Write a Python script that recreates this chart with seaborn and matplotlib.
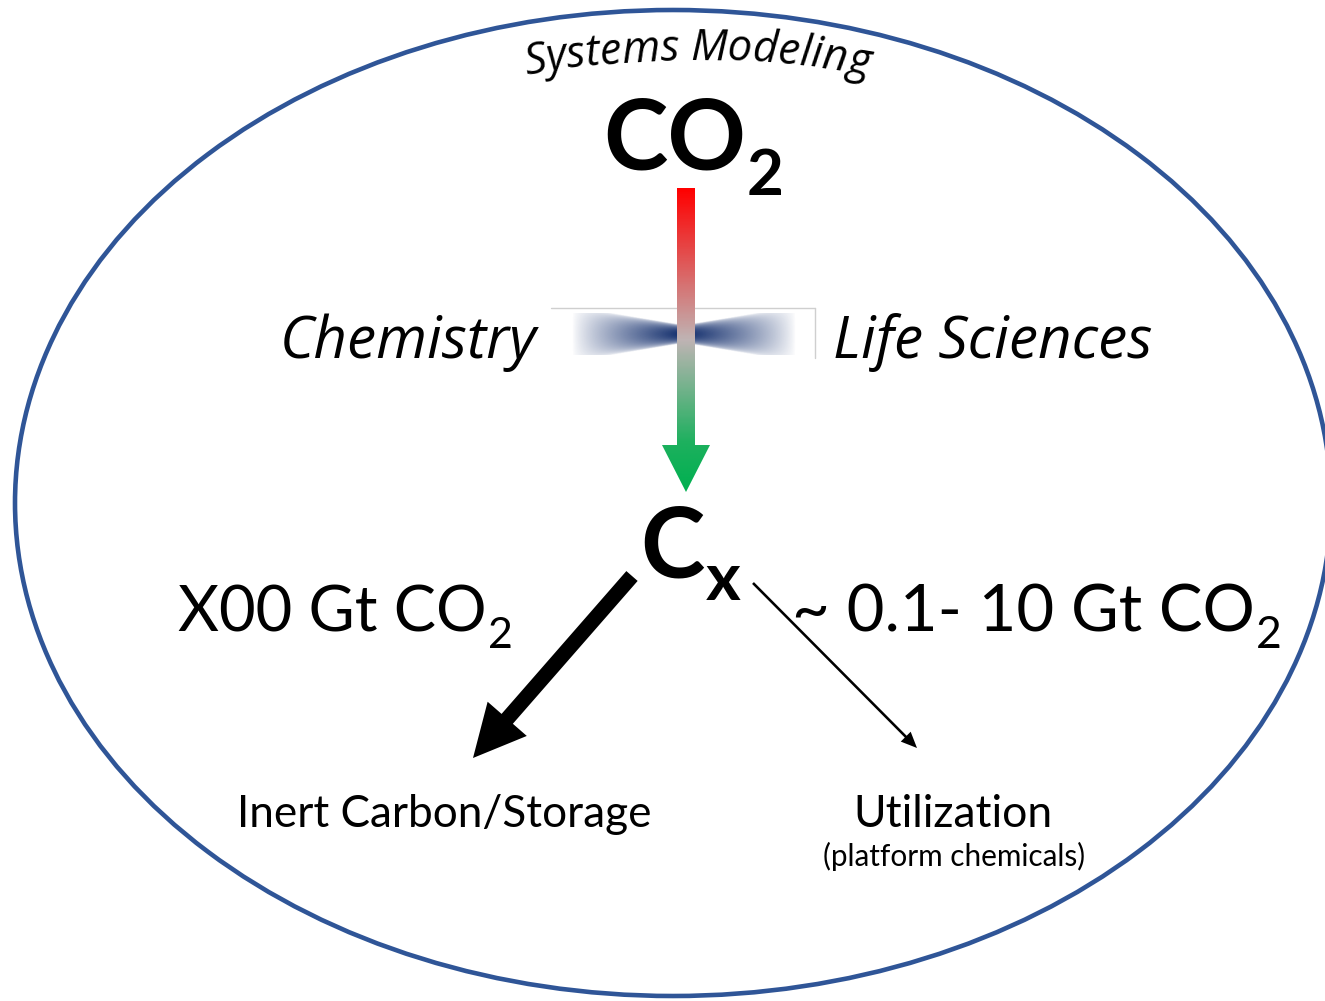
import numpy as np
import matplotlib
matplotlib.use("Agg")
import matplotlib.pyplot as plt
import seaborn as sns
from matplotlib.patches import Ellipse, FancyArrow
from matplotlib.colors import LinearSegmentedColormap, to_rgb
from matplotlib.font_manager import FontProperties

sns.set_theme(style="white")
FONT = "Lato"
ITALIC_FONT = "Open Sans"
plt.rcParams["font.family"] = [FONT, "DejaVu Sans"]

# diagram content
header = "Systems Modeling"
source = ("CO", "2")
product = ("C", "x")
disciplines = ["Chemistry", "Life Sciences"]
flow_labels = [("X00 Gt CO", "2"), ("~ 0.1- 10 Gt CO", "2")]
destinations = ["Inert Carbon/Storage", "Utilization"]
destination_note = "(platform chemicals)"

fig = plt.figure(figsize=(13.25, 10.01), dpi=100)
ax = fig.add_axes([0, 0, 1, 1])
ax.set_xlim(0, 1325)
ax.set_ylim(1001, 0)
ax.axis("off")
renderer = fig.canvas.get_renderer()

# outer ellipse
ax.add_patch(Ellipse((673, 503), 1316, 986, fill=False, ec="#2F5597", lw=3.3))


def put(x, y, s, size, weight="normal", style="normal", ha="left", family=FONT):
    return ax.text(x, y, s, fontsize=size, fontweight=weight, fontstyle=style,
                   ha=ha, va="baseline", color="black", family=family)


def put_sub(x, y, main, sub, size, sub_size, drop, weight="normal"):
    t = put(x, y, main, size, weight)
    bb = t.get_window_extent(renderer)
    x1 = ax.transData.inverted().transform((bb.x1, bb.y0))[0]
    put(x1 + 1, y + drop, sub, sub_size, weight)


# header on an arc
prop = FontProperties(family=ITALIC_FONT, style="italic", size=31.5)
widths = [renderer.get_text_width_height_descent(header[:i], prop, ismath=False)[0]
          for i in range(len(header) + 1)]
W = widths[-1]
R, cx, top = 1000.0, 697.0, 60.0
for i, ch in enumerate(header):
    s = (widths[i] + widths[i + 1]) / 2 - W / 2
    th = s / R
    ax.text(cx + R * np.sin(th), top + R - R * np.cos(th), ch, fontproperties=prop,
            color="black", rotation=-np.degrees(th), rotation_mode="anchor",
            ha="center", va="baseline")

# CO2 and Cx
put_sub(603, 170, source[0], source[1], 70, 46, 25, weight="bold")
put_sub(640, 578, product[0], product[1], 70, 48, 22, weight="bold")

# picture frame lines and blue blur
ax.plot([551, 815], [308, 308], color="#CFCFCF", lw=1)
ax.plot([815, 815], [308, 358], color="#CFCFCF", lw=1)
nx, ny = 300, 80
u = np.linspace(-1, 1, nx)[None, :]
v = np.linspace(-1, 1, ny)[:, None]
wdt = 0.42 + 0.9 * np.abs(u)
alpha = (1 - np.abs(u)) ** 0.8 * np.clip(1 - (np.abs(v) / wdt) ** 2, 0, 1) ** 0.5
rgba = np.zeros((ny, nx, 4))
rgba[..., :3] = to_rgb("#0E2A6A")
rgba[..., 3] = alpha
ax.imshow(rgba, extent=(572, 796, 355, 313), origin="upper", aspect="auto",
          interpolation="bilinear", zorder=2)

# gradient arrow
grad_arrow = FancyArrow(686, 188, 0, 304, width=18, head_width=48, head_length=47,
                        length_includes_head=True, fc="none", ec="none")
ax.add_patch(grad_arrow)
cmap = LinearSegmentedColormap.from_list(
    "rg", [(0, "#FF0000"), (0.5, "#BFB4B4"), (0.84, "#1DB05E"), (1, "#00B050")])
g = np.linspace(0, 1, 300)[:, None]
im = ax.imshow(g, cmap=cmap, extent=(660, 712, 492, 188), origin="upper",
               aspect="auto", zorder=3)
im.set_clip_path(grad_arrow)

# discipline labels
put(537, 358, disciplines[0], 42, style="italic", ha="right", family=ITALIC_FONT)
put(833, 358, disciplines[1], 42, style="italic", family=ITALIC_FONT)

# flow arrows
ax.add_patch(FancyArrow(632, 576, -159, 182, width=15, head_width=52, head_length=52,
                        length_includes_head=True, color="black", lw=0))
ax.add_patch(FancyArrow(753, 583, 164, 165, width=2.6, head_width=14, head_length=16,
                        length_includes_head=True, color="black", lw=0))

# flow amounts
put_sub(178, 632, flow_labels[0][0], flow_labels[0][1], 45.5, 31, 16)
put_sub(792, 632, flow_labels[1][0], flow_labels[1][1], 47, 32, 16)

# destinations
put(237, 827, destinations[0], 31.8)
put(953, 827, destinations[1], 32, ha="center")
put(954, 866, destination_note, 21.4, ha="center")

fig.savefig("out.png", dpi=100, facecolor="white")
